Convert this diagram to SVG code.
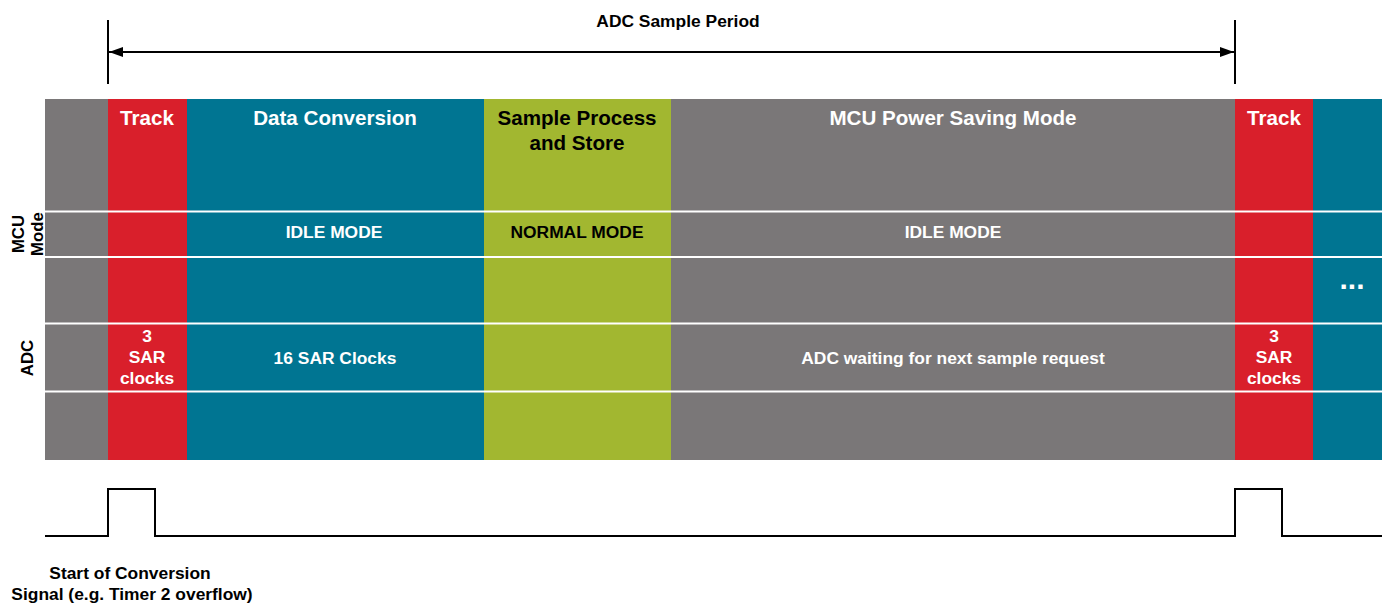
<svg xmlns="http://www.w3.org/2000/svg" width="1382" height="603" viewBox="0 0 1382 603">
<style>
text{font-family:"Liberation Sans",Arial,sans-serif;font-weight:bold;text-anchor:middle}
.t{font-size:20.6px}
.s{font-size:17.4px}
.w{fill:#ffffff}
.k{fill:#000000}
.gray{fill:#7a7778}
.red{fill:#d91f2b}
.teal{fill:#007592}
.green{fill:#a2b730}
.sep{stroke:#ffffff;stroke-width:2}
.ln{stroke:#000000;stroke-width:2;fill:none}
</style>
<defs>
<marker id="ah" viewBox="0 0 14 10" refX="14" refY="5" markerWidth="14" markerHeight="10" markerUnits="userSpaceOnUse" orient="auto-start-reverse">
<path d="M0,0 L14,5 L0,10 z" fill="#000000"/>
</marker>
</defs>
<rect x="0" y="0" width="1382" height="603" fill="#ffffff"/>
<g id="period">
<line class="ln" x1="108" y1="20" x2="108" y2="84"/>
<line class="ln" x1="1235" y1="20" x2="1235" y2="84"/>
<line class="ln" x1="109" y1="52" x2="1234" y2="52" marker-start="url(#ah)" marker-end="url(#ah)"/>
<text class="s k" x="678" y="27">ADC Sample Period</text>
</g>
<g id="pre">
<rect class="gray" x="45" y="99" width="63" height="361"/>
</g>
<g id="track1">
<rect class="red" x="108" y="99" width="79" height="361"/>
<text class="t w" x="147" y="125">Track</text>
<text class="s w" x="147" y="342">3</text>
<text class="s w" x="147" y="363">SAR</text>
<text class="s w" x="147" y="384">clocks</text>
</g>
<g id="conversion">
<rect class="teal" x="187" y="99" width="297" height="361"/>
<text class="t w" x="335" y="125">Data Conversion</text>
<text class="s w" x="334" y="238">IDLE MODE</text>
<text class="s w" x="335" y="364">16 SAR Clocks</text>
</g>
<g id="process">
<rect class="green" x="484" y="99" width="187" height="361"/>
<text class="t k" x="577" y="125">Sample Process</text>
<text class="t k" x="577" y="150">and Store</text>
<text class="s k" x="577" y="238">NORMAL MODE</text>
</g>
<g id="powersave">
<rect class="gray" x="671" y="99" width="564" height="361"/>
<text class="t w" x="953" y="125">MCU Power Saving Mode</text>
<text class="s w" x="953" y="238">IDLE MODE</text>
<text class="s w" x="953" y="364">ADC waiting for next sample request</text>
</g>
<g id="track2">
<rect class="red" x="1235" y="99" width="78" height="361"/>
<text class="t w" x="1274" y="125">Track</text>
<text class="s w" x="1274" y="342">3</text>
<text class="s w" x="1274" y="363">SAR</text>
<text class="s w" x="1274" y="384">clocks</text>
</g>
<g id="next">
<rect class="teal" x="1313" y="99" width="69" height="361"/>
<text class="w" x="1352" y="289" style="font-size:30px">...</text>
</g>
<g id="separators">
<line class="sep" x1="45" y1="211.5" x2="1382" y2="211.5"/>
<line class="sep" x1="45" y1="257" x2="1382" y2="257"/>
<line class="sep" x1="45" y1="323.5" x2="1382" y2="323.5"/>
<line class="sep" x1="45" y1="391.5" x2="1382" y2="391.5"/>
</g>
<g id="labels">
<text class="k" transform="translate(24,234) rotate(-90)" style="font-size:16.8px">MCU</text>
<text class="k" transform="translate(43,234) rotate(-90)" style="font-size:16.8px">Mode</text>
<text class="k" transform="translate(33,358) rotate(-90)" style="font-size:16.8px">ADC</text>
</g>
<g id="signal">
<polyline class="ln" points="45,536 108,536 108,489 155,489 155,536 1235,536 1235,489 1282,489 1282,536 1382,536"/>
<text class="s k" x="130" y="579">Start of Conversion</text>
<text class="s k" x="132" y="600">Signal (e.g. Timer 2 overflow)</text>
</g>
</svg>
